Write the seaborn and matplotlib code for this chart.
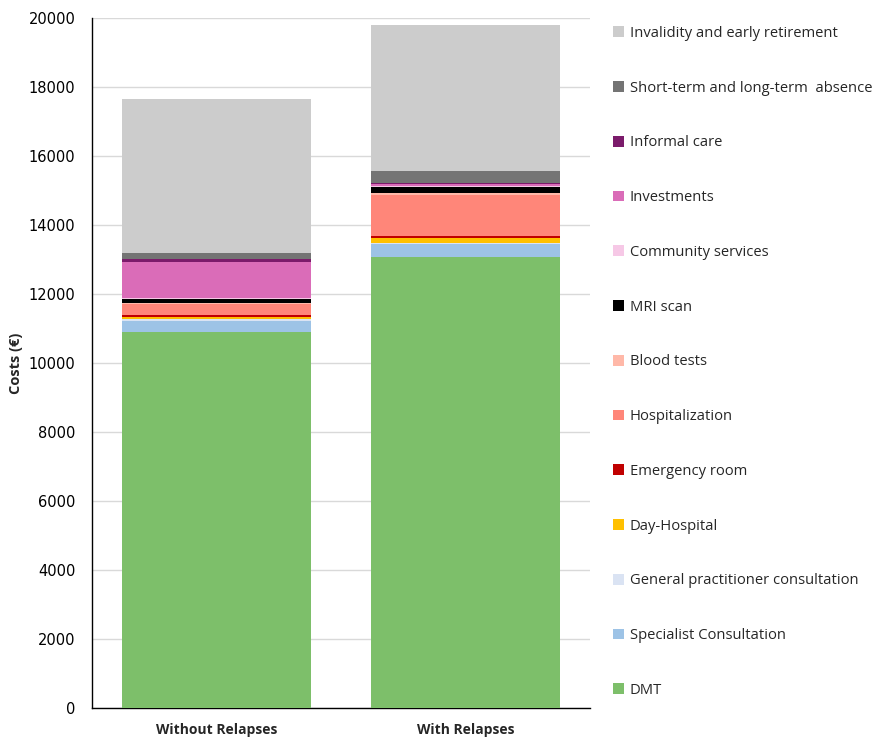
import matplotlib
matplotlib.use("Agg")
import matplotlib.pyplot as plt
import seaborn as sns
import pandas as pd
import numpy as np
from matplotlib.patches import Patch

groups = ["Without Relapses", "With Relapses"]

# Cost components, bottom to top of each stacked bar (EUR)
components = [
    "DMT",
    "Specialist Consultation",
    "General practitioner consultation",
    "Day-Hospital",
    "Emergency room",
    "Hospitalization",
    "Blood tests",
    "MRI scan",
    "Community services",
    "Investments",
    "Informal care",
    "Short-term and long-term  absence",
    "Invalidity and early retirement",
]
without_relapses = [10910, 315, 40, 58, 58, 320, 30, 115, 30, 1045, 95, 185, 4455]
with_relapses = [13060, 395, 35, 125, 75, 1190, 40, 175, 30, 60, 30, 340, 4240]

colors = [
    "#7DBF6A", "#9DC3E6", "#DAE3F3", "#FFC000", "#C00000", "#FF8679",
    "#FFB8A8", "#000000", "#F6C8E6", "#DA6CB8", "#7B1B6B", "#747474", "#CCCCCC",
]

df = pd.DataFrame({"group": groups})
for name, a, b in zip(components, without_relapses, with_relapses):
    df[name] = [a, b]

sns.set_theme(style="white")
plt.rcParams["font.family"] = ["DejaVu Sans"]

fig = plt.figure(figsize=(8.72, 7.39), dpi=100)
ax = fig.add_axes([92 / 872, 31 / 739, (590 - 92) / 872, (708 - 18) / 739])

bottom = np.zeros(len(groups))
for name, col in zip(components, colors):
    sns.barplot(data=df, x="group", y=name, color=col, width=0.763,
                bottom=bottom, ax=ax, saturation=1, edgecolor="none",
                linewidth=0, zorder=3)
    bottom = bottom + df[name].to_numpy()

ax.set_ylim(0, 20000)
ax.set_xlim(-0.5, 1.5)
ax.set_yticks(np.arange(0, 20001, 2000))
ax.yaxis.grid(True, color="#D9D9D9", linewidth=1, zorder=0)
ax.set_axisbelow(True)
for s in ["top", "right"]:
    ax.spines[s].set_visible(False)
for s in ["left", "bottom"]:
    ax.spines[s].set_color("black")
    ax.spines[s].set_linewidth(1)
ax.tick_params(axis="y", labelsize=10.5, length=0, pad=12, colors="black")
ax.tick_params(axis="x", length=0, pad=11)
for lbl in ax.get_xticklabels():
    lbl.set_fontweight("bold")
    lbl.set_fontsize(10)
    lbl.set_fontfamily("Open Sans")
ax.set_xlabel("")
ax.set_ylabel("Costs (€)", fontsize=10.5, fontweight="bold",
              fontfamily="Open Sans", labelpad=4)

handles = [Patch(facecolor=c, edgecolor="none", label=n)
           for n, c in zip(components, colors)][::-1]
fig.legend(handles=handles, loc="upper left",
           bbox_to_anchor=(607 / 872, 1 - 20 / 739), frameon=False,
           prop={"family": "Open Sans", "size": 10.6},
           handlelength=0.75, handleheight=0.75, handletextpad=0.4,
           labelspacing=2.70, borderaxespad=0)

fig.savefig("out.png", dpi=100)
